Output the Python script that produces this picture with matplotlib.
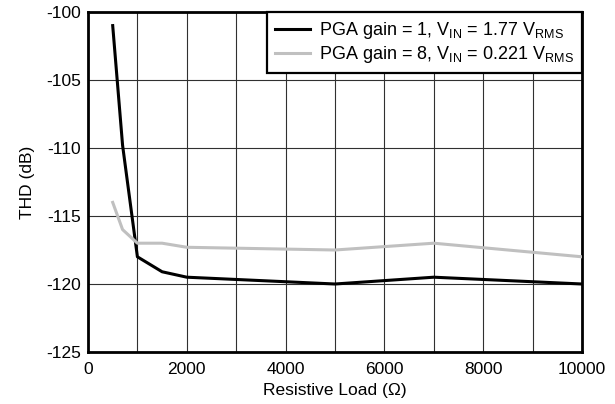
import matplotlib
matplotlib.use("Agg")
import matplotlib.pyplot as plt

plt.rcParams['font.family'] = ['Liberation Sans', 'DejaVu Sans']
plt.rcParams['mathtext.default'] = 'regular'
plt.rcParams['axes.unicode_minus'] = False

load = [500, 700, 1000, 1500, 2000, 5000, 7000, 10000]
thd_gain1 = [-101.0, -109.8, -118.0, -119.1, -119.5, -120.0, -119.5, -120.0]
thd_gain8 = [-114.0, -116.0, -117.0, -117.0, -117.3, -117.5, -117.0, -118.0]
labels = ['PGA gain = 1, V$_{IN}$ = 1.77 V$_{RMS}$',
          'PGA gain = 8, V$_{IN}$ = 0.221 V$_{RMS}$']
xticks = [0, 2000, 4000, 6000, 8000, 10000]
yticks = [-125, -120, -115, -110, -105, -100]

fs = 12.5
fig = plt.figure(figsize=(6.15, 4.04), dpi=100)
ax = fig.add_axes([88/615, 1-352/404, (582-88)/615, (352-12)/404])

ax.plot(load, thd_gain1, color='black', lw=2.2, label=labels[0], zorder=3)
ax.plot(load, thd_gain8, color='#c0c0c0', lw=2.2, label=labels[1], zorder=3)

ax.set_xlim(0, 10000)
ax.set_ylim(-125, -100)
ax.set_xticks(xticks)
ax.set_yticks(yticks)
ax.set_xticks(range(0, 10001, 1000), minor=True)
ax.grid(True, which='both', color='#303030', lw=0.8)
ax.tick_params(which='both', length=0, labelsize=fs)
ax.tick_params(axis='y', pad=5)
ax.tick_params(axis='x', pad=7.5)
for s in ax.spines.values():
    s.set_linewidth(2.0)
ax.set_xlabel('Resistive Load (Ω)', fontsize=fs, labelpad=4)
ax.set_ylabel('THD (dB)', fontsize=fs, labelpad=8)

leg = ax.legend(loc='upper right', borderaxespad=0, fontsize=13, fancybox=False,
                framealpha=1, edgecolor='black', handlelength=1.9,
                handletextpad=0.5, labelspacing=0.15, borderpad=0.45)
leg.get_frame().set_linewidth(1.6)

fig.savefig('out.png', dpi=100)
